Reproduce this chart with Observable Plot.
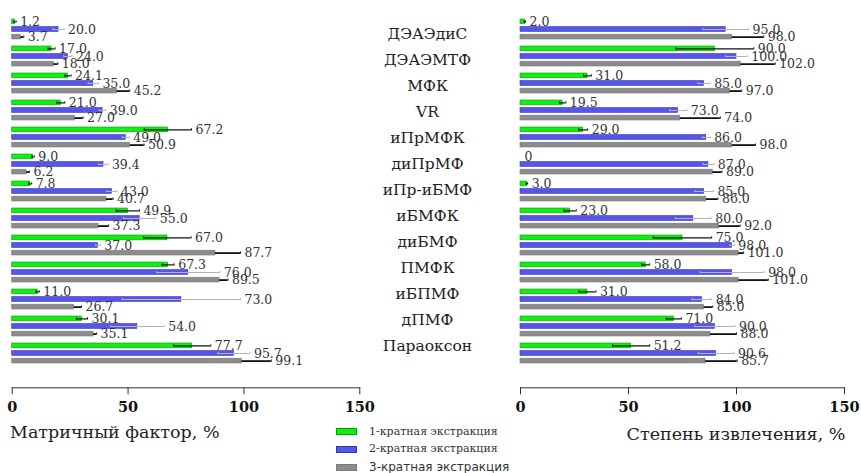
<!DOCTYPE html>
<html>
<head>
<meta charset="utf-8">
<script src="https://cdn.jsdelivr.net/npm/d3@7"></script>
<script src="https://cdn.jsdelivr.net/npm/@observablehq/plot@0.6"></script>
<style>
  html, body { margin: 0; padding: 0; background: #fff; }
  #wrap { position: relative; width: 861px; height: 473px; overflow: hidden; }
  #wrap svg { position: absolute; left: 0; top: 0; }
  .ttl { position: absolute; font-family: "DejaVu Serif", serif; font-size: 17.5px; color: #222; white-space: nowrap; line-height: 20px; }
  .leg { position: absolute; left: 336px; white-space: nowrap; color: #333; line-height: 14px; }
  .leg span.sw { display: inline-block; width: 19px; height: 5px; margin-right: 12px; vertical-align: middle; border: 1px solid; }
</style>
</head>
<body>
<div id="wrap"></div>
<script>
// ---- data ----
const categories = ["ДЭАЭдиС", "ДЭАЭМТФ", "МФК", "VR", "иПрМФК", "диПрМФ", "иПр-иБМФ", "иБМФК", "диБМФ", "ПМФК", "иБПМФ", "дПМФ", "Параоксон"];
const seriesNames = ["1-кратная экстракция", "2-кратная экстракция", "3-кратная экстракция"];
const xTicks = [0, 50, 100, 150];

// Матричный фактор, %
const mf1 = [1.2, 17.0, 24.1, 21.0, 67.2, 9.0, 7.8, 49.9, 67.0, 67.3, 11.0, 30.1, 77.7];
const mf2 = [20.0, 24.0, 35.0, 39.0, 49.0, 39.4, 43.0, 55.0, 37.0, 76.0, 73.0, 54.0, 95.7];
const mf3 = [3.7, 18.0, 45.2, 27.0, 50.9, 6.2, 40.7, 37.3, 87.7, 89.5, 26.7, 35.1, 99.1];
const mfErr1 = [0.5, 1.5, 1.3, 1.7, 10.2, 0.5, 0.6, 5.0, 10.2, 2.6, 0.7, 2.4, 8.0];
const mfErr2 = [2.4, 1.8, 2.2, 1.4, 1.5, 1.9, 2.2, 7.0, 1.0, 13.6, 25.5, 11.6, 6.9];
const mfErr3 = [1.3, 1.7, 5.5, 3.6, 6.0, 1.3, 2.8, 4.3, 10.8, 3.6, 3.2, 1.3, 12.7];

// Степень извлечения, %
const rec1 = [2.0, 90.0, 31.0, 19.5, 29.0, 0, 3.0, 23.0, 75.0, 58.0, 31.0, 71.0, 51.2];
const rec2 = [95.0, 100.0, 85.0, 73.0, 86.0, 87.0, 85.0, 80.0, 98.0, 98.0, 84.0, 90.0, 90.6];
const rec3 = [98.0, 102.0, 97.0, 74.0, 98.0, 89.0, 86.0, 92.0, 101.0, 101.0, 85.0, 88.0, 85.7];
const recErr1 = [0.3, 18.0, 1.8, 1.5, 2.1, 0, 0.3, 2.8, 13.5, 1.8, 3.9, 3.5, 8.6];
const recErr2 = [10.6, 5.0, 2.8, 4.0, 1.8, 2.5, 4.3, 8.3, 1.0, 14.8, 4.5, 9.3, 8.3];
const recErr3 = [14.6, 15.9, 5.4, 18.5, 10.8, 4.3, 5.4, 9.7, 2.3, 13.7, 4.0, 12.0, 14.6];

// ---- styles ----
const fills = ["#10f010", "#5555ee", "#8c8c8c"];
const strokes = ["#0a9a0a", "#3434b0", "#7a7a7a"];
const errColors = ["#111", "#b4b4b4", "#111"];
const errWidths = [1.2, 1, 1.8];
const STEP = 7.6;
const W = 861, H = 473;
const fmt = v => v === 0 ? "0" : v.toFixed(1);

function panel(vals, errs, marginLeft, marginRight) {
  const marks = [];
  for (let j = 0; j < 3; j++) {
    const data = categories.map((c, i) => ({cat: c, v: vals[j][i], e: errs[j][i]}));
    const off = (j - 1) * STEP;
    marks.push(Plot.barX(data.filter(d => d.v > 0), {
      y: "cat", x: "v", fill: fills[j], stroke: strokes[j], strokeWidth: 0.6,
      insetTop: j * STEP + 1.0, insetBottom: (2 - j) * STEP + 1.0
    }));
    const lo = j === 2 ? (d => d.v) : (d => d.v - d.e);
    marks.push(Plot.ruleY(data.filter(d => d.e > 0), {
      y: "cat", x1: lo, x2: d => d.v + d.e, dy: off,
      stroke: errColors[j], strokeWidth: errWidths[j]
    }));
    marks.push(Plot.tickX(data.filter(d => d.e > 0), {
      y: "cat", x: d => d.v + d.e, stroke: errColors[j], strokeWidth: 1,
      insetTop: j * STEP + 2.3, insetBottom: (2 - j) * STEP + 2.3
    }));
    if (j < 2) {
      marks.push(Plot.tickX(data.filter(d => d.e > 0), {
        y: "cat", x: d => d.v - d.e, stroke: errColors[j], strokeWidth: 1,
        insetTop: j * STEP + 2.3, insetBottom: (2 - j) * STEP + 2.3
      }));
    }
    marks.push(Plot.text(data, {
      y: "cat", x: d => d.v + d.e, dy: off, dx: 4, text: d => fmt(d.v),
      textAnchor: "start", fill: "#333", fontSize: 12.5
    }));
  }
  marks.push(Plot.frame({anchor: "bottom", stroke: "#333"}));
  marks.push(Plot.axisX({ticks: xTicks, tickSize: 7, tickPadding: 7, fontWeight: "bold", fontSize: 14.5, fill: "#111", stroke: "#333", label: null, tickFormat: d => String(d)}));
  return Plot.plot({
    width: W, height: H,
    marginLeft, marginRight, marginTop: 8.5, marginBottom: H - 387.3,
    style: {background: "transparent", fontFamily: "DejaVu Serif, serif", overflow: "visible"},
    x: {domain: [0, 150], label: null},
    y: {type: "band", domain: categories, range: [8.5, 373.1], padding: 0.176, axis: null},
    marks
  });
}

const wrap = document.getElementById("wrap");
wrap.append(panel([mf1, mf2, mf3], [mfErr1, mfErr2, mfErr3], 11.7, W - 359.3));
wrap.append(panel([rec1, rec2, rec3], [recErr1, recErr2, recErr3], 520, W - 844));

// category labels in the middle
wrap.append(Plot.plot({
  width: W, height: H, marginLeft: 427, marginRight: 0, marginTop: 18, marginBottom: H - 361,
  style: {background: "transparent", fontFamily: "DejaVu Serif, serif", overflow: "visible"},
  y: {type: "point", domain: categories, range: [18, 361], axis: null},
  marks: [
    Plot.text(categories, {y: d => d, frameAnchor: "left", textAnchor: "middle", fontSize: 15.5, fill: "#222"})
  ]
}));

// axis titles
const t1 = document.createElement("div");
t1.className = "ttl"; t1.textContent = "Матричный фактор, %";
t1.style.left = "10px"; t1.style.top = "422px";
wrap.append(t1);
const t2 = document.createElement("div");
t2.className = "ttl"; t2.textContent = "Степень извлечения, %";
t2.style.left = "736px"; t2.style.top = "424px"; t2.style.transform = "translateX(-50%)";
wrap.append(t2);

// legend
const legY = [431.7, 449.3, 467.3];
seriesNames.forEach((name, j) => {
  const d = document.createElement("div");
  d.className = "leg";
  d.style.top = (legY[j] - 7) + "px";
  d.style.fontFamily = j === 2 ? "'DejaVu Sans', sans-serif" : "'DejaVu Serif', serif";
  d.style.fontSize = j === 2 ? "12px" : "11px";
  const sw = document.createElement("span");
  sw.className = "sw"; sw.style.background = fills[j]; sw.style.borderColor = strokes[j];
  d.append(sw, document.createTextNode(name));
  wrap.append(d);
});
</script>
</body>
</html>
